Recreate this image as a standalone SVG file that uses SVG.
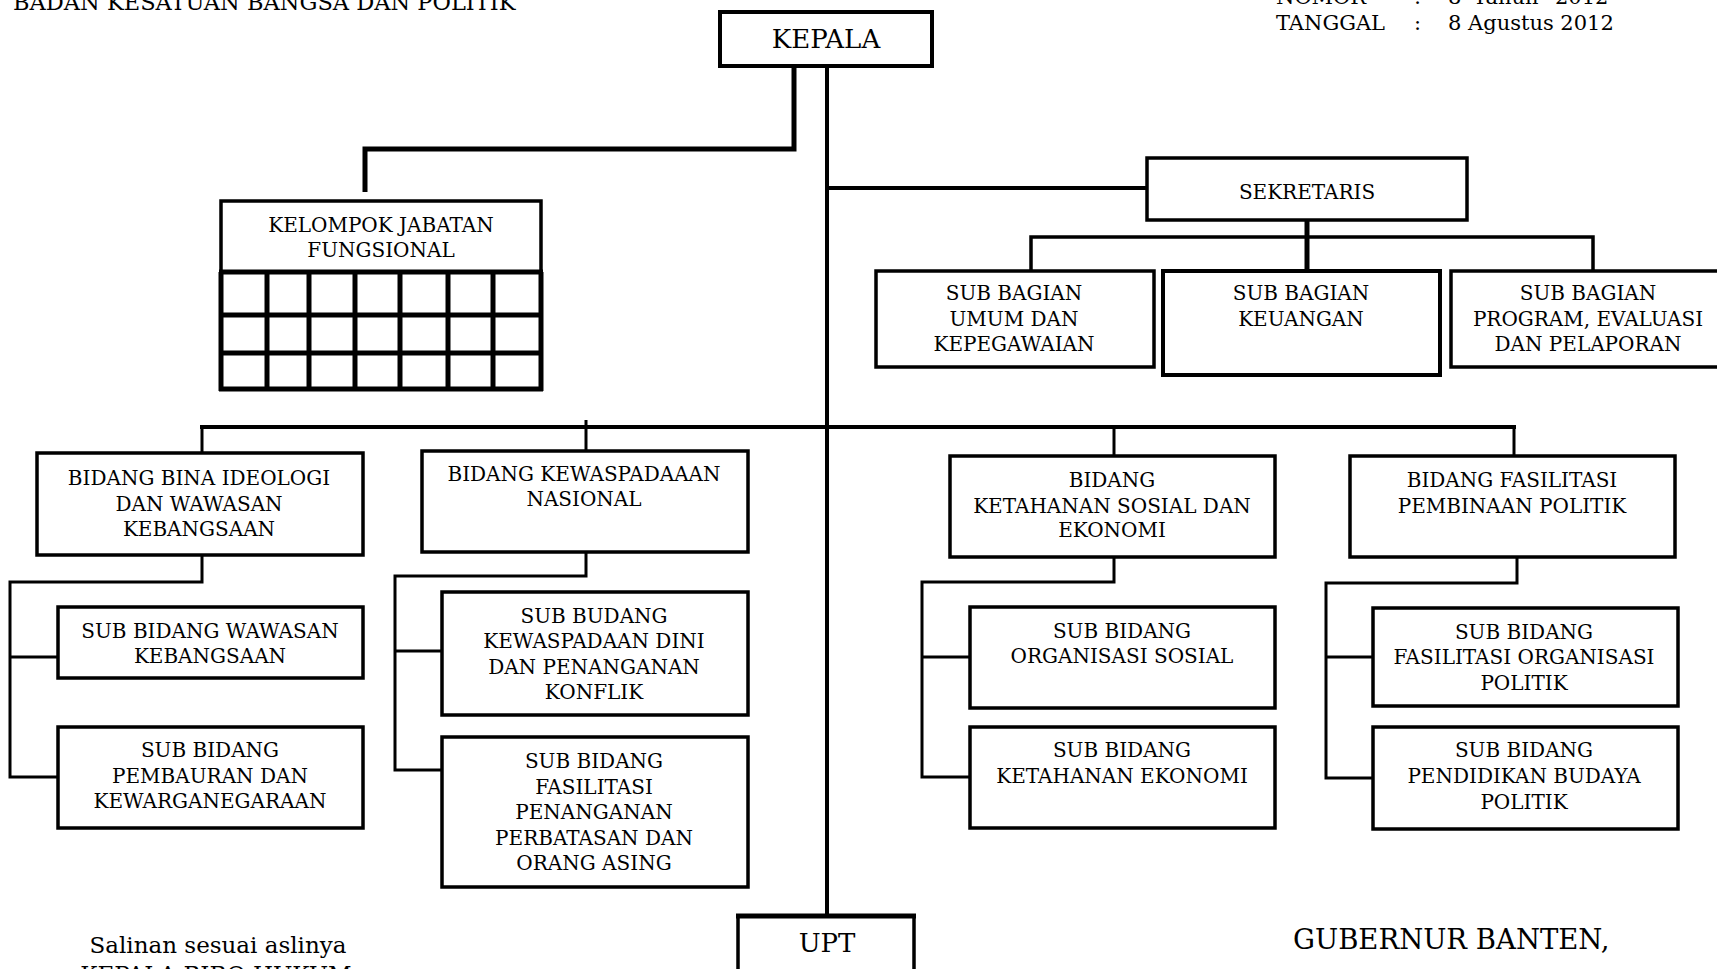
<svg xmlns="http://www.w3.org/2000/svg" width="1717" height="969" viewBox="0 0 1717 969">
<style>
.box{fill:#fff;stroke:#000;stroke-width:3.5}
.t{font-family:"DejaVu Serif","Liberation Serif",serif;font-size:20px;text-anchor:middle;fill:#000}
.big{font-size:26px}
.h{font-family:"DejaVu Serif","Liberation Serif",serif;fill:#000}
.c{fill:none;stroke:#000;stroke-width:3}
.w4{stroke-width:4}
.w5{stroke-width:5}
.g{fill:none;stroke:#000;stroke-width:5}
</style>
<rect width="1717" height="969" fill="#fff"/>
<g id="header">
<text class="h" x="13" y="10" font-size="22.5">BADAN KESATUAN BANGSA DAN POLITIK</text>
<text class="h" y="4" font-size="21"><tspan x="1276">NOMOR</tspan><tspan x="1414">:</tspan><tspan x="1448">8</tspan><tspan x="1473">Tahun</tspan><tspan x="1555">2012</tspan></text>
<text class="h" y="30" font-size="21"><tspan x="1276">TANGGAL</tspan><tspan x="1414">:</tspan><tspan x="1448">8 Agustus 2012</tspan></text>
</g>
<g id="connectors">
<polyline class="g" points="794,66 794,149 365,149 365,192"/>
<line class="c w4" x1="827" y1="66" x2="827" y2="915"/>
<line class="c w4" x1="827" y1="188" x2="1147" y2="188"/>
<line class="c w5" x1="1307" y1="220" x2="1307" y2="270"/>
<polyline class="c" points="1031,272 1031,237 1593,237 1593,270" style="stroke-width:3.5"/>
<line class="c w4" x1="200" y1="427" x2="1516" y2="427"/>
<line class="c" x1="202" y1="427" x2="202" y2="453"/>
<line class="c" x1="586" y1="420" x2="586" y2="451"/>
<line class="c" x1="1114" y1="427" x2="1114" y2="456"/>
<line class="c" x1="1514" y1="427" x2="1514" y2="456"/>
<polyline class="c" points="202,555 202,582 10,582 10,777 58,777"/>
<line class="c" x1="10" y1="657" x2="58" y2="657"/>
<polyline class="c" points="586,551 586,576 395,576 395,770 442,770"/>
<line class="c" x1="395" y1="651" x2="442" y2="651"/>
<polyline class="c" points="1114,557 1114,582 922,582 922,777 970,777"/>
<line class="c" x1="922" y1="657" x2="970" y2="657"/>
<polyline class="c" points="1517,557 1517,583 1326,583 1326,778 1373,778"/>
<line class="c" x1="1326" y1="657" x2="1373" y2="657"/>
</g>
<g id="kepala">
<rect class="box w4" x="720" y="12" width="212" height="54"/>
<text class="t big" x="826" y="48">KEPALA</text>
</g>
<g id="kelompok">
<rect class="box" x="221" y="201" width="320" height="71"/>
<text class="t"><tspan x="381" y="232">KELOMPOK JABATAN</tspan><tspan x="381" y="257">FUNGSIONAL</tspan></text>
<g class="g">
<line x1="221" y1="272" x2="221" y2="391"/>
<line x1="267" y1="272" x2="267" y2="391"/>
<line x1="309" y1="272" x2="309" y2="391"/>
<line x1="355" y1="272" x2="355" y2="391"/>
<line x1="400" y1="274" x2="400" y2="391"/>
<line x1="448" y1="272" x2="448" y2="391"/>
<line x1="493" y1="272" x2="493" y2="391"/>
<line x1="541" y1="272" x2="541" y2="391"/>
<line x1="219" y1="272" x2="543" y2="272"/>
<line x1="219" y1="315" x2="543" y2="315"/>
<line x1="219" y1="353" x2="543" y2="353"/>
<line x1="219" y1="389" x2="543" y2="389"/>
</g>
</g>
<g id="sekretaris">
<rect class="box" x="1147" y="158" width="320" height="62"/>
<text class="t" x="1307" y="199">SEKRETARIS</text>
</g>
<g id="sub-umum">
<rect class="box" x="876" y="271" width="278" height="96"/>
<text class="t"><tspan x="1014" y="300">SUB BAGIAN</tspan><tspan x="1014" y="325.5">UMUM DAN</tspan><tspan x="1014" y="351">KEPEGAWAIAN</tspan></text>
</g>
<g id="sub-keuangan">
<rect class="box w4" x="1163" y="271" width="277" height="104"/>
<text class="t"><tspan x="1301" y="300">SUB BAGIAN</tspan><tspan x="1301" y="325.5">KEUANGAN</tspan></text>
</g>
<g id="sub-program">
<rect class="box" x="1451" y="271" width="280" height="96"/>
<text class="t"><tspan x="1588" y="300">SUB BAGIAN</tspan><tspan x="1588" y="325.5">PROGRAM, EVALUASI</tspan><tspan x="1588" y="351">DAN PELAPORAN</tspan></text>
</g>
<g id="bidang-bina">
<rect class="box" x="37" y="453" width="326" height="102"/>
<text class="t"><tspan x="199" y="485">BIDANG BINA IDEOLOGI</tspan><tspan x="199" y="511">DAN WAWASAN</tspan><tspan x="199" y="536">KEBANGSAAN</tspan></text>
</g>
<g id="sub-wawasan">
<rect class="box" x="58" y="607" width="305" height="71"/>
<text class="t"><tspan x="210" y="638">SUB BIDANG WAWASAN</tspan><tspan x="210" y="663">KEBANGSAAN</tspan></text>
</g>
<g id="sub-pembauran">
<rect class="box" x="58" y="727" width="305" height="101"/>
<text class="t"><tspan x="210" y="757">SUB BIDANG</tspan><tspan x="210" y="783">PEMBAURAN DAN</tspan><tspan x="210" y="808">KEWARGANEGARAAN</tspan></text>
</g>
<g id="bidang-kewaspadaan">
<rect class="box" x="422" y="451" width="326" height="101"/>
<text class="t"><tspan x="584" y="481">BIDANG KEWASPADAAAN</tspan><tspan x="584" y="506">NASIONAL</tspan></text>
</g>
<g id="sub-dini">
<rect class="box" x="442" y="592" width="306" height="123"/>
<text class="t"><tspan x="594" y="623">SUB BUDANG</tspan><tspan x="594" y="648">KEWASPADAAN DINI</tspan><tspan x="594" y="674">DAN PENANGANAN</tspan><tspan x="594" y="699">KONFLIK</tspan></text>
</g>
<g id="sub-perbatasan">
<rect class="box" x="442" y="737" width="306" height="150"/>
<text class="t"><tspan x="594" y="768">SUB BIDANG</tspan><tspan x="594" y="794">FASILITASI</tspan><tspan x="594" y="819">PENANGANAN</tspan><tspan x="594" y="845">PERBATASAN DAN</tspan><tspan x="594" y="870">ORANG ASING</tspan></text>
</g>
<g id="bidang-ketahanan">
<rect class="box" x="950" y="456" width="325" height="101"/>
<text class="t"><tspan x="1112" y="487">BIDANG</tspan><tspan x="1112" y="513">KETAHANAN SOSIAL DAN</tspan><tspan x="1112" y="537">EKONOMI</tspan></text>
</g>
<g id="sub-organisasi-sosial">
<rect class="box" x="970" y="607" width="305" height="101"/>
<text class="t"><tspan x="1122" y="638">SUB BIDANG</tspan><tspan x="1122" y="663">ORGANISASI SOSIAL</tspan></text>
</g>
<g id="sub-ketahanan-ekonomi">
<rect class="box" x="970" y="727" width="305" height="101"/>
<text class="t"><tspan x="1122" y="757">SUB BIDANG</tspan><tspan x="1122" y="783">KETAHANAN EKONOMI</tspan></text>
</g>
<g id="bidang-fasilitasi">
<rect class="box" x="1350" y="456" width="325" height="101"/>
<text class="t"><tspan x="1512" y="487">BIDANG FASILITASI</tspan><tspan x="1512" y="513">PEMBINAAN POLITIK</tspan></text>
</g>
<g id="sub-orpol">
<rect class="box" x="1373" y="608" width="305" height="98"/>
<text class="t"><tspan x="1524" y="639">SUB BIDANG</tspan><tspan x="1524" y="664">FASILITASI ORGANISASI</tspan><tspan x="1524" y="690">POLITIK</tspan></text>
</g>
<g id="sub-pendidikan">
<rect class="box" x="1373" y="727" width="305" height="102"/>
<text class="t"><tspan x="1524" y="757">SUB BIDANG</tspan><tspan x="1524" y="783">PENDIDIKAN BUDAYA</tspan><tspan x="1524" y="809">POLITIK</tspan></text>
</g>
<g id="upt">
<rect class="box" x="738" y="916" width="176" height="70"/>
<line class="c w5" x1="736" y1="916" x2="916" y2="916"/>
<text class="t big" x="827" y="952">UPT</text>
</g>
<g id="footer">
<text class="h" x="218" y="953" font-size="23" text-anchor="middle">Salinan sesuai aslinya</text>
<text class="h" x="216" y="982" font-size="23" text-anchor="middle">KEPALA BIRO HUKUM</text>
<text class="h" x="1293" y="949" font-size="27.5">GUBERNUR BANTEN,</text>
</g>
</svg>
